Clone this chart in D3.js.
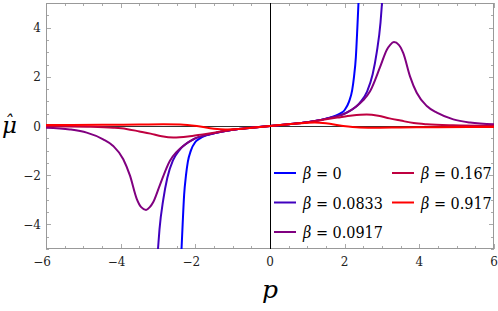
<!DOCTYPE html>
<html>
<head>
<meta charset="utf-8">
<script src="https://cdn.jsdelivr.net/npm/d3@7"></script>
<style>
  body { margin: 0; background: #fff; }
  svg text { font-family: "DejaVu Serif", "Liberation Serif", serif; }
  svg text.leg { font-family: "DejaVu Serif Condensed", "DejaVu Serif", serif; }
</style>
</head>
<body>
<svg id="svg" width="498" height="311"></svg>
<script>
// values, curve by curve
var betaLabels = ["0", "0.0833", "0.0917", "0.167", "0.917"];
var colors = ["#0000ff", "#4000bf", "#800080", "#bf0040", "#ff0000"];

var pBeta0  = [-2.39, -2.37, -2.34, -2.30, -2.25, -2.20, -2.12, -2.0, -1.875, -1.5, -1.0, -0.5, 0, 0.5, 1.0, 1.5, 1.875, 2.0, 2.12, 2.20, 2.25, 2.30, 2.34, 2.37, 2.39];
var muBeta0 = [-5.6, -5.0, -4.0, -2.8, -2.0, -1.45, -1.0, -0.65, -0.5, -0.3, -0.15, -0.07, 0, 0.07, 0.15, 0.3, 0.5, 0.65, 1.0, 1.45, 2.0, 2.8, 4.0, 5.0, 5.6];

var pBeta1  = [-3.03, -3.0, -2.96, -2.86, -2.75, -2.6, -2.41, -2.05, -1.6, -1.0, -0.5, 0, 0.5, 1.0, 1.6, 2.05, 2.41, 2.6, 2.75, 2.86, 2.96, 3.0, 3.03];
var muBeta1 = [-5.6, -5.0, -4.2, -3.0, -2.1, -1.4, -0.95, -0.54, -0.33, -0.15, -0.07, 0, 0.07, 0.15, 0.33, 0.54, 0.95, 1.4, 2.1, 3.0, 4.2, 5.0, 5.6];

var pBeta2  = [-6, -5.36, -4.91, -4.47, -4.2, -3.93, -3.75, -3.57, -3.45, -3.32, -3.22, -3.13, -2.95, -2.68, -2.5, -2.3, -2.05, -1.6, -1.0, -0.5, 0,
               0.5, 1.0, 1.6, 2.05, 2.3, 2.5, 2.68, 2.95, 3.13, 3.22, 3.32, 3.45, 3.57, 3.75, 3.93, 4.2, 4.47, 4.91, 5.36, 6];
var muBeta2 = [-0.07, -0.14, -0.27, -0.54, -0.81, -1.35, -2.02, -2.96, -3.3, -3.41, -3.3, -3.1, -2.4, -1.41, -1.05, -0.78, -0.53, -0.33, -0.15, -0.07, 0,
               0.07, 0.15, 0.33, 0.53, 0.78, 1.05, 1.41, 2.4, 3.1, 3.3, 3.41, 3.3, 2.96, 2.02, 1.35, 0.81, 0.54, 0.27, 0.14, 0.07];

var pBeta3  = [-6, -4.9, -4.2, -3.85, -3.5, -3.2, -2.9, -2.59, -2.2, -1.8, -1.5, -1.0, -0.5, 0, 0.5, 1.0, 1.5, 1.8, 2.2, 2.59, 2.9, 3.2, 3.5, 3.85, 4.2, 4.9, 6];
var muBeta3 = [-0.01, -0.03, -0.07, -0.12, -0.22, -0.31, -0.42, -0.47, -0.43, -0.34, -0.27, -0.15, -0.07, 0, 0.07, 0.15, 0.27, 0.34, 0.43, 0.47, 0.42, 0.31, 0.22, 0.12, 0.07, 0.03, 0.01];

var pBeta4  = [-6, -4.5, -3.5, -2.86, -2.4, -1.96, -1.5, -1.2, -1.0, -0.5, 0, 0.5, 1.0, 1.2, 1.5, 1.96, 2.4, 2.86, 3.5, 4.5, 6];
var muBeta4 = [0.04, 0.05, 0.06, 0.07, 0.06, 0, -0.11, -0.14, -0.13, -0.07, 0, 0.07, 0.13, 0.14, 0.11, 0, -0.06, -0.07, -0.06, -0.05, -0.04];

var xTicks = [-6, -4, -2, 0, 2, 4, 6];
var yTicks = [-4, -2, 0, 2, 4];

var series = [[pBeta0, muBeta0], [pBeta1, muBeta1], [pBeta2, muBeta2], [pBeta3, muBeta3], [pBeta4, muBeta4]]
  .map(function(s) { return s[0].map(function(p, i) { return [p, s[1][i]]; }); });

var svg = d3.select("#svg"),
    margin = { left: 46, right: 4, top: 3, bottom: 62 },
    width = +svg.attr("width") - margin.left - margin.right,
    height = +svg.attr("height") - margin.top - margin.bottom;

var x = d3.scaleLinear().domain([-6, 6]).range([margin.left, margin.left + width]);
var y = d3.scaleLinear().domain([-5, 5]).range([margin.top + height, margin.top]);

svg.append("defs").append("clipPath")
    .attr("id", "clip")
  .append("rect")
    .attr("x", margin.left)
    .attr("y", margin.top)
    .attr("width", width)
    .attr("height", height);

// frame ticks, every 0.5, major every 2
var tickVals = d3.range(-6, 6.01, 0.5);
var yTickVals = d3.range(-5, 5.01, 0.5);
var tickG = svg.append("g").style("stroke", "#aaa").style("stroke-width", 1);
tickVals.forEach(function(v) {
  var len = (v % 2 === 0) ? 5 : 3;
  var px = Math.round(x(v)) + 0.5;
  tickG.append("line").attr("x1", px).attr("x2", px).attr("y1", margin.top + height).attr("y2", margin.top + height - len);
  tickG.append("line").attr("x1", px).attr("x2", px).attr("y1", margin.top).attr("y2", margin.top + len);
});
yTickVals.forEach(function(v) {
  var len = (v % 2 === 0) ? 5 : 3;
  var py = Math.round(y(v)) + 0.5;
  tickG.append("line").attr("x1", margin.left).attr("x2", margin.left + len).attr("y1", py).attr("y2", py);
  tickG.append("line").attr("x1", margin.left + width).attr("x2", margin.left + width - len).attr("y1", py).attr("y2", py);
});

svg.append("rect")
    .attr("x", margin.left + 0.5)
    .attr("y", margin.top + 0.5)
    .attr("width", width - 1)
    .attr("height", height - 1)
    .style("fill", "none")
    .style("stroke", "#999");

// axes through origin
svg.append("line")
    .attr("x1", margin.left).attr("x2", margin.left + width)
    .attr("y1", Math.round(y(0)) + 0.5).attr("y2", Math.round(y(0)) + 0.5)
    .style("stroke", "#333").style("stroke-width", 1);
svg.append("line")
    .attr("x1", Math.round(x(0)) + 0.5).attr("x2", Math.round(x(0)) + 0.5)
    .attr("y1", margin.top).attr("y2", margin.top + height)
    .style("stroke", "#000").style("stroke-width", 1);

// tick labels
var fmt = function(v) { return v < 0 ? "\u2212" + (-v) : "" + v; };
svg.append("g").selectAll("text").data(xTicks).enter().append("text")
    .attr("x", d => x(d) - (d < 0 ? 4 : 0))
    .attr("y", margin.top + height + 17)
    .attr("text-anchor", "middle")
    .style("font-size", "12px")
    .style("fill", "#222")
    .text(fmt);
svg.append("g").selectAll("text").data(yTicks).enter().append("text")
    .attr("x", margin.left - 5)
    .attr("y", d => y(d) + 4.5)
    .attr("text-anchor", "end")
    .style("font-size", "12px")
    .style("fill", "#222")
    .text(fmt);

// axis labels
svg.append("text")
    .attr("x", 270).attr("y", 298)
    .attr("text-anchor", "middle")
    .style("font-size", "25px").style("font-style", "italic")
    .text("p");
var mu = svg.append("text")
    .attr("x", 2).attr("y", 133)
    .style("font-size", "23px").style("font-style", "italic");
mu.append("tspan").text("\u03bc");
mu.append("tspan").attr("dx", -13).attr("dy", -4).style("font-size", "18px").text("\u02c6");

// curves
var line = d3.line()
    .x(d => x(d[0]))
    .y(d => y(d[1]))
    .curve(d3.curveMonotoneX);

svg.append("g").attr("clip-path", "url(#clip)")
  .selectAll("path").data(series).enter().append("path")
    .attr("d", line)
    .style("fill", "none")
    .style("stroke", (d, i) => colors[i])
    .style("stroke-width", 2);

// legend
var legendPos = [[274, 173], [274, 202.5], [274, 232], [392, 173], [392, 202.5]];
var legG = svg.append("g");
betaLabels.forEach(function(b, i) {
  var lx = legendPos[i][0], ly = legendPos[i][1];
  legG.append("line")
      .attr("x1", lx).attr("x2", lx + 22)
      .attr("y1", ly).attr("y2", ly)
      .style("stroke", colors[i]).style("stroke-width", 2);
  var t = legG.append("text")
      .attr("class", "leg")
      .attr("x", lx + 29).attr("y", ly + 6)
      .style("font-size", "16px");
  t.append("tspan").style("font-style", "italic").text("\u03b2");
  t.append("tspan").text(" = " + b);
});
</script>
</body>
</html>
